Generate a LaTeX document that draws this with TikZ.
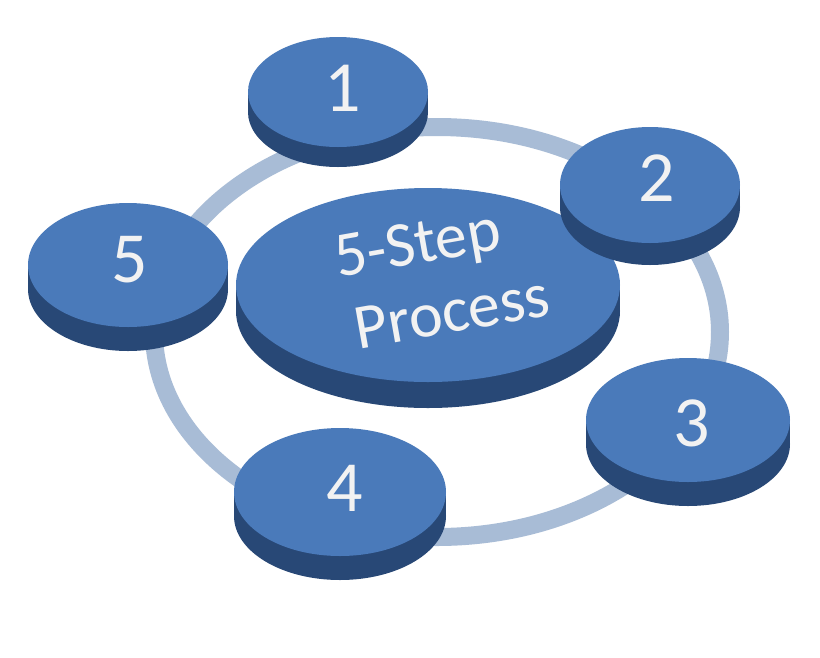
\documentclass[tikz,border=0pt]{standalone}
\usepackage{fontspec}
\setmainfont{Carlito}
\definecolor{topc}{RGB}{74,122,186}
\definecolor{sidec}{RGB}{40,72,118}
\definecolor{ringc}{RGB}{168,188,214}
\definecolor{txtc}{RGB}{242,242,242}
\tikzset{numtxt/.style={text=txtc,font=\fontsize{72}{72}\selectfont},
  ctxt/.style={text=txtc,font=\fontsize{64}{64}\selectfont,rotate=10,inner sep=0pt}}
\newcommand{\mydisc}[5]{% cx cy rx ry t
  \fill[sidec] (#1,#2+#5) ellipse [x radius=#3pt, y radius=#4pt];
  \fill[sidec] (#1-#3,#2) rectangle (#1+#3,#2+#5);
  \fill[topc] (#1,#2) ellipse [x radius=#3pt, y radius=#4pt];
}
\begin{document}
\begin{tikzpicture}[x=1pt,y=-1pt]
\useasboundingbox[fill=white] (0,0) rectangle (820,657);
\draw[ringc,line width=18pt] (437,332) ellipse [x radius=283pt, y radius=205pt];
\mydisc{428}{285}{192}{97}{26}
\mydisc{338}{92}{90}{55}{20}
\mydisc{650}{185}{90}{58}{22}
\mydisc{688}{420}{102}{62}{24}
\mydisc{340}{492}{106}{64}{24}
\mydisc{128}{265}{100}{62}{24}
\node[numtxt] (n1) at (343,88) {1};
\node[numtxt] (n2) at (657,178) {2};
\node[numtxt] (n3) at (692,423) {3};
\node[numtxt] (n4) at (345,488) {4};
\node[numtxt] (n5) at (130,260) {5};
\node[ctxt] (c1) at (418,248) {5-Step};
\node[ctxt] (c2) at (452,312) {Process};
\end{tikzpicture}
\end{document}
